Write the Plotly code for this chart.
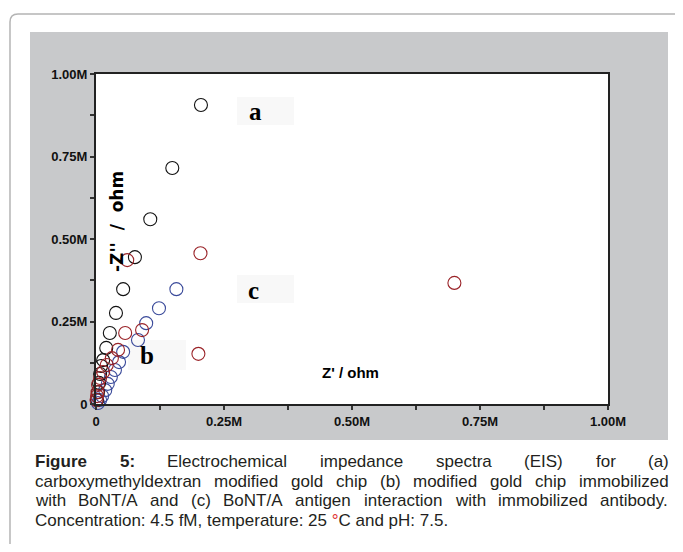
import plotly.graph_objects as go

# ---------------- data (ohm) ----------------
a_x = [2000, 4000, 6000, 8000, 10000, 14000, 20000, 27000, 39000, 53000, 76000, 106000, 149000, 205000]
a_y = [12000, 36000, 64000, 91000, 115000, 133000, 170000, 215000, 276000, 348000, 445000, 560000, 715000, 906000]

b_x = [4000, 8000, 12000, 18000, 23000, 29000, 37000, 45000, 53000, 82000, 98000, 123000, 157000]
b_y = [3000, 12000, 24000, 42000, 61000, 82000, 103000, 127000, 158000, 194000, 245000, 290000, 348000]

c_x = [1000, 2000, 3000, 4000, 8000, 14000, 21000, 31000, 43000, 57000, 90000, 61000, 204000, 200000, 700000]
c_y = [12000, 24000, 36000, 58000, 79000, 97000, 118000, 139000, 164000, 215000, 224000, 436000, 457000, 152000, 367000]

tick_vals = [0, 250000, 500000, 750000, 1000000]
tick_text = ["0", "0.25M", "0.50M", "0.75M", "1.00M"]
minor_vals = [125000, 375000, 625000, 875000]

series_labels = ["a", "b", "c"]
x_title = "Z' / ohm"
y_title = "-Z''\u00a0\u00a0/\u00a0\u00a0ohm"

caption_lines = [
    "<b>Figure</b> <b>5:</b> Electrochemical impedance spectra (EIS) for (a)",
    "carboxymethyldextran modified gold chip (b) modified gold chip immobilized",
    "with BoNT/A and (c) BoNT/A antigen interaction with immobilized antibody.",
    "Concentration: 4.5 fM, temperature: 25 <span style='color:#e03030'>°</span>C and pH: 7.5.",
]

# ---------------- layout helpers ----------------
OFF = 8                      # page body margin of the html page
W, H = 683 - OFF, 552 - 2 * OFF
L, R, T, B = 96, 608, 74, 404   # plot area in reference pixels


def px(x):
    return (x - L) / (R - L)


def py(y):
    return (B - y) / (B - T)


# Arial / Liberation Sans widths (per 1000 em)
REG = {' ': 278, '(': 333, ')': 333, '.': 278, ',': 278, ':': 278, '/': 278,
       'A': 667, 'B': 667, 'C': 722, 'E': 667, 'H': 722, 'I': 278, 'M': 833,
       'N': 722, 'O': 778, 'S': 667, 'T': 611, 'F': 611}
for ch in "0123456789":
    REG[ch] = 556
REG.update({'a': 556, 'b': 556, 'c': 500, 'd': 556, 'e': 556, 'f': 278, 'g': 556,
            'h': 556, 'i': 222, 'j': 222, 'k': 500, 'l': 222, 'm': 833, 'n': 556,
            'o': 556, 'p': 556, 'q': 556, 'r': 333, 's': 500, 't': 278, 'u': 556,
            'v': 500, 'w': 722, 'x': 500, 'y': 500, 'z': 500})
BOLD = {'F': 611, 'i': 278, 'g': 611, 'u': 611, 'r': 389, 'e': 556, '5': 556, ':': 333}

CAP_FS = 17
CAP_X0, CAP_X1 = 34, 668
CAP_Y = [461.5, 481, 500.5, 520]
CAP_COLOR = "#231f20"
CAP_FONT = "Liberation Sans, Arial, sans-serif"


def word_width(w):
    bold = w.startswith("<b>")
    t = w.replace("<b>", "").replace("</b>", "")
    tab = BOLD if bold else REG
    return sum(tab.get(ch, REG.get(ch, 556)) for ch in t) * CAP_FS / 1000.0


annotations = []
for i, line in enumerate(caption_lines):
    if i < 3:
        words = line.split(" ")
        widths = [word_width(w) for w in words]
        gap = (CAP_X1 - CAP_X0 - sum(widths)) / (len(words) - 1)
        xpos = CAP_X0
        for w, ww in zip(words, widths):
            annotations.append(dict(
                x=px(xpos), y=py(CAP_Y[i]), xref="paper", yref="paper", borderpad=0,
                xanchor="left", yanchor="middle", text=w, showarrow=False,
                font=dict(family=CAP_FONT, size=CAP_FS, color=CAP_COLOR)))
            xpos += ww + gap
    else:
        annotations.append(dict(
            x=px(CAP_X0), y=py(CAP_Y[i]), xref="paper", yref="paper", borderpad=0,
            xanchor="left", yanchor="middle", text=line, showarrow=False,
            font=dict(family=CAP_FONT, size=CAP_FS, color=CAP_COLOR)))

# series letters
label_pos = {"a": (255, 112), "b": (147, 355), "c": (253, 290)}
label_box = {"a": (237, 97, 294, 125), "b": (128, 340, 186, 370), "c": (237, 275, 294, 303)}
for lab in series_labels:
    xx, yy = label_pos[lab]
    annotations.append(dict(
        x=px(xx), y=py(yy), xref="paper", yref="paper", text="<b>%s</b>" % lab,
        showarrow=False, xanchor="center", yanchor="middle",
        font=dict(family="Liberation Serif, Times New Roman, serif", size=25, color="#000")))

# axis titles
annotations.append(dict(
    x=px(350), y=py(372), xref="paper", yref="paper", text=x_title, showarrow=False,
    xanchor="center", yanchor="middle",
    font=dict(family="Liberation Sans, Arial, sans-serif", size=15, color="#000", weight="bold")))
annotations.append(dict(
    x=px(117), y=py(222), xref="paper", yref="paper", text=y_title, showarrow=False,
    xanchor="center", yanchor="middle", textangle=-90,
    font=dict(family="DejaVu Sans, Verdana, sans-serif", size=17, color="#000", weight="bold")))

shapes = [
    # grey panel
    dict(type="rect", xref="paper", yref="paper", x0=px(30), x1=px(668), y0=py(440), y1=py(32),
         fillcolor="#c8c9cb", line=dict(width=0), layer="below"),
    # white plot area
    dict(type="rect", xref="paper", yref="paper", x0=0, x1=1, y0=0, y1=1,
         fillcolor="#ffffff", line=dict(width=0), layer="below"),
    # rounded outer frame
    dict(type="path", xref="paper", yref="paper",
         path="M %f,%f L %f,%f Q %f,%f %f,%f L %f,%f" % (
             px(10), py(551), px(10), py(22), px(10), py(14), px(18), py(14), px(690), py(14)),
         line=dict(color="#b4b4b4", width=1.5), layer="below"),
]
for lab in series_labels:
    x0, y0, x1, y1 = label_box[lab]
    shapes.append(dict(type="rect", xref="paper", yref="paper", x0=px(x0), x1=px(x1),
                       y0=py(y1), y1=py(y0), fillcolor="#f8f8f8", line=dict(width=0),
                       layer="below"))

fig = go.Figure()
marker_common = dict(symbol="circle-open", size=13)
fig.add_trace(go.Scatter(x=b_x, y=b_y, mode="markers", cliponaxis=False,
                         marker=dict(color="#3a4a9a", line=dict(width=1.1), **marker_common)))
fig.add_trace(go.Scatter(x=a_x, y=a_y, mode="markers", cliponaxis=False,
                         marker=dict(color="#111111", line=dict(width=1.1), **marker_common)))
fig.add_trace(go.Scatter(x=c_x, y=c_y, mode="markers", cliponaxis=False,
                         marker=dict(color="#9a2328", line=dict(width=1.1), **marker_common)))

tickfont = dict(family="Liberation Sans, Arial, sans-serif", size=13, color="#111", weight="bold")
axis_common = dict(
    range=[0, 1000000], tickmode="array", tickvals=tick_vals, ticktext=tick_text,
    showgrid=False, zeroline=False, showline=True, linecolor="#222", linewidth=2,
    mirror=True, ticks="outside", ticklen=4, tickwidth=1.5, tickcolor="#333",
    tickfont=tickfont,
    minor=dict(tickmode="array", tickvals=minor_vals, ticks="outside", ticklen=4,
               tickwidth=1.5, tickcolor="#333", showgrid=False),
)

fig.update_layout(
    width=W, height=H, showlegend=False,
    margin=dict(l=L - OFF, r=W - (R - OFF), t=T - OFF, b=H - (B - OFF), pad=0),
    paper_bgcolor="#ffffff", plot_bgcolor="#ffffff",
    xaxis=dict(**axis_common),
    yaxis=dict(**axis_common),
    shapes=shapes, annotations=annotations,
)

fig.write_html("out.html")
